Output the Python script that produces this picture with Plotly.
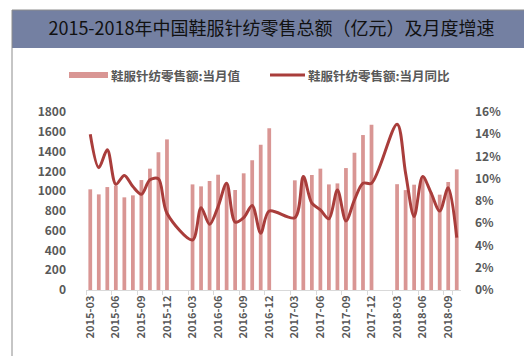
import plotly.graph_objects as go

# ---------------- data ----------------
months = [f"{y}-{m:02d}" for y in range(2015, 2019) for m in range(1, 13)]
months = months[months.index("2015-03"):months.index("2018-10") + 1]

sales = [
    1018, 967, 1041, 1055, 937, 957, 1112, 1227, 1392, 1523,
    None, None, 1068, 1048, 1102, 1166, 1070, 1011, 1180, 1311, 1469, 1635,
    None, None, 1109, 1130, 1163, 1227, 1068, 1078, 1233, 1388, 1567, 1671,
    None, None, 1070, 1010, 1065, 1145, 985, 964, 1092, 1220,
]
growth = [
    14.0, 11.0, 12.6, 9.5, 10.3, 9.3, 8.6, 9.9, 10.0, 6.9,
    None, None, 4.5, 7.4, 5.9, 7.5, 9.6, 6.1, 6.5, 7.6, 5.1, 7.1,
    None, None, 6.5, 10.2, 7.8, 7.2, 6.4, 9.0, 6.2, 8.1, 9.6, 9.6,
    None, None, 14.9, 10.5, 6.6, 10.2, 8.7, 7.1, 9.2, 4.7,
]
tick_labels = months[::3]
left_ticks = list(range(0, 1801, 200))
right_ticks = list(range(0, 17, 2))
right_tick_text = [f"{v}%" for v in right_ticks]

title_text = "2015-2018年中国鞋服针纺零售总额（亿元）及月度增速"
name_bar = "鞋服针纺零售额:当月值"
name_line = "鞋服针纺零售额:当月同比"

# ---------------- layout helpers ----------------
W, H = 532, 356
L, R, T, B = 78, 453, 104, 282


def px(x):
    return (x - L) / (R - L)


def py(y):
    return (B - y) / (B - T)


CJK = "Noto Sans CJK SC"
GRAY = "#595959"
BAR_C = "#D99694"
LINE_C = "#A93D3B"

fig = go.Figure()
fig.add_trace(go.Bar(
    x=months, y=sales, name=name_bar,
    marker=dict(color=BAR_C, line=dict(width=0)),
    yaxis="y", showlegend=False,
))
fig.add_trace(go.Scatter(
    x=months, y=growth, name=name_line, mode="lines",
    line=dict(color=LINE_C, width=3, shape="spline", smoothing=0.9),
    connectgaps=True, yaxis="y2", showlegend=False,
))

legend_font = dict(family=CJK, size=12.5, color=GRAY, weight="bold")

fig.update_layout(
    width=W, height=H,
    margin=dict(l=L, r=W - R, t=T, b=H - B, pad=0),
    paper_bgcolor="white", plot_bgcolor="white",
    bargap=0.56,
    title=dict(
        text=title_text, x=263.5 / W, xanchor="center", xref="container",
        y=1 - 21 / H, yanchor="middle", yref="container",
        font=dict(family=CJK, size=18, color="#111111"),
    ),
    xaxis=dict(
        type="category", categoryorder="array", categoryarray=months,
        range=[-0.5, len(months) - 0.5],
        tickmode="array", tickvals=tick_labels, ticktext=tick_labels,
        tickson="boundaries",
        tickangle=-90, ticks="outside", ticklen=4, tickcolor="#D9D9D9",
        showline=True, linecolor="#D9D9D9", linewidth=1,
        showgrid=False, zeroline=False,
        tickfont=dict(family=CJK, size=11, color=GRAY, weight="bold"),
    ),
    yaxis=dict(
        range=[0, 1800], tickvals=left_ticks,
        showgrid=False, zeroline=False, showline=False, ticks="",
        tickfont=dict(family=CJK, size=12, color=GRAY, weight="bold"),
        ticklabelstandoff=19,
    ),
    yaxis2=dict(
        range=[0, 16], tickmode="array", tickvals=right_ticks,
        ticktext=right_tick_text,
        overlaying="y", side="right",
        showgrid=False, zeroline=False, showline=False, ticks="",
        tickfont=dict(family=CJK, size=12, color=GRAY, weight="bold"),
        ticklabelstandoff=13,
    ),
    shapes=[
        dict(type="rect", xref="paper", yref="paper",
             x0=px(4), x1=px(530), y0=py(40), y1=py(2),
             fillcolor="#7480A2", line=dict(width=0), layer="below"),
        dict(type="rect", xref="paper", yref="paper",
             x0=px(4), x1=px(530), y0=py(350), y1=py(2),
             fillcolor="rgba(0,0,0,0)", line=dict(color="#8C8C8C", width=1)),
        # legend swatches
        dict(type="rect", xref="paper", yref="paper",
             x0=px(61), x1=px(100), y0=py(70), y1=py(64),
             fillcolor=BAR_C, line=dict(width=0)),
        dict(type="line", xref="paper", yref="paper",
             x0=px(262), x1=px(297), y0=py(67), y1=py(67),
             line=dict(color=LINE_C, width=3)),
    ],
    annotations=[
        dict(text=name_bar, xref="paper", yref="paper", x=px(101), y=py(67),
             xanchor="left", yanchor="middle", showarrow=False, font=legend_font),
        dict(text=name_line, xref="paper", yref="paper", x=px(298), y=py(67),
             xanchor="left", yanchor="middle", showarrow=False, font=legend_font),
    ],
)

fig.write_html("out.html")
